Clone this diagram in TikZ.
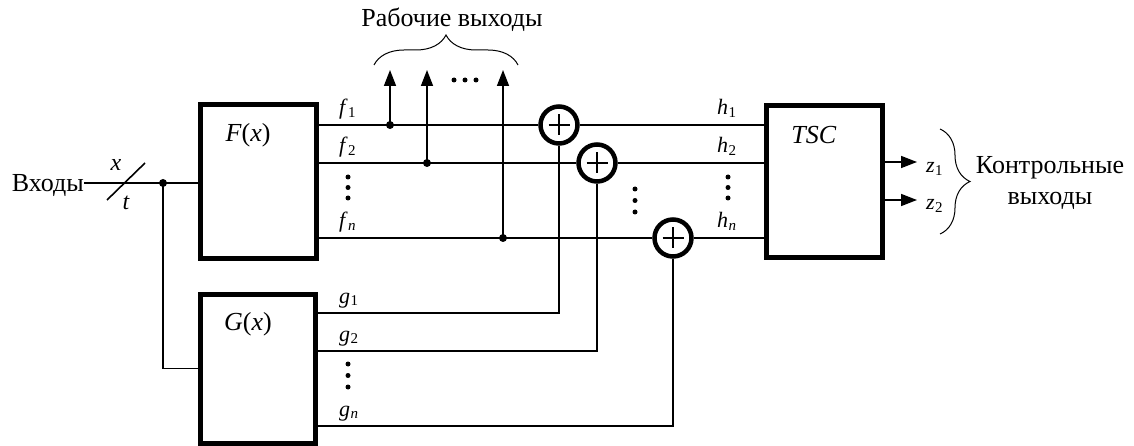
\documentclass[tikz,border=0pt]{standalone}
\usepackage{fontspec}
\setmainfont{Liberation Serif}
\usetikzlibrary{arrows.meta,decorations.pathreplacing}
\newcommand\sbx[1]{\kern0.3pt\raisebox{-0.12em}{\fontsize{15}{15}\selectfont #1}}
\begin{document}
\begin{tikzpicture}[x=1pt,y=-1pt,
  wire/.style={line width=1.6pt},
  blk/.style={draw, line width=5pt, rectangle, inner sep=0pt},
  xorn/.style={draw, circle, line width=4.5pt, minimum size=37pt, inner sep=0pt},
  jdot/.style={circle, fill, inner sep=0pt, minimum size=8pt},
  edot/.style={circle, fill, inner sep=0pt, minimum size=5pt},
  lbl/.style={font=\fontsize{22}{26}\selectfont, inner sep=0pt, anchor=base west},
  big/.style={font=\fontsize{26}{31}\selectfont, inner sep=0pt},
  arr/.style={-{Triangle[length=16pt,width=12pt]}, line width=1.6pt},
  brc/.style={decorate, decoration={brace, amplitude=30pt}, line width=1pt},
]
\useasboundingbox (0,0) rectangle (1134,446);

% blocks
\node[blk, minimum width=116pt, minimum height=153pt] (F) at (258,181.5) {};
\node[blk, minimum width=115pt, minimum height=149pt] (G) at (257.5,368.5) {};
\node[blk, minimum width=116pt, minimum height=151pt] (T) at (824,181.5) {};
\node[big] (Fl) at (248,135) {\textit{F}(\textit{x})};
\node[big] (Gl) at (248,324) {\textit{G}(\textit{x})};
\node[big] (Tl) at (814,135) {\textit{TSC}};

% xor gates
\node[xorn] (X1) at (559,125) {};
\node[xorn] (X2) at (597,163) {};
\node[xorn] (X3) at (673,238) {};
\foreach \n in {X1,X2,X3}
  \draw[wire] (\n.center) ++(-10.5,0) -- ++(21,0) (\n.center) ++(0,-10.5) -- ++(0,21);

% f -> xor -> h wires
\draw[wire] (F.east |- X1) -- (X1.west) (X1.east) -- (T.west |- X1);
\draw[wire] (F.east |- X2) -- (X2.west) (X2.east) -- (T.west |- X2);
\draw[wire] (F.east |- X3) -- (X3.west) (X3.east) -- (T.west |- X3);

% g wires
\coordinate (g1) at (559,313);
\coordinate (g2) at (597,351);
\coordinate (g3) at (673,426);
\draw[wire] (G.east |- g1) -| (X1.south);
\draw[wire] (G.east |- g2) -| (X2.south);
\draw[wire] (G.east |- g3) -| (X3.south);

% taps to working outputs
\node[jdot] (t1) at (390,125) {};
\node[jdot] (t2) at (427,163) {};
\node[jdot] (t3) at (503,238) {};
\coordinate (a1) at (390,70);
\coordinate (a2) at (427,70);
\coordinate (a3) at (503,70);
\draw[arr] (t1.center) -- (a1);
\draw[arr] (t2.center) -- (a2);
\draw[arr] (t3.center) -- (a3);
\node[edot] (hd1) at (454,80) {};
\node[edot] (hd2) at (465,80) {};
\node[edot] (hd3) at (476,80) {};
\coordinate (b1) at (374,65);
\coordinate (b2) at (518,65);
\draw[brc] (b1) -- (b2);
\node[big] (work) at (452,20) {Рабочие выходы};

% input
\node[big, anchor=base east] (in) at (84,192) {Входы};
\node[jdot] (j) at (163,183) {};
\draw[wire] (j -| in.east) -- (F.west |- j);
\draw[wire] (j.center) |- (G.west);
\coordinate (s1) at (107,200);
\coordinate (s2) at (145,163);
\draw[wire] (s1) -- (s2);
\node[font=\fontsize{24}{28}\selectfont\itshape, inner sep=0pt] (xl) at (116,165) {x};
\node[font=\fontsize{24}{28}\selectfont\itshape, inner sep=0pt] (tl) at (126,203) {t};

% labels
\node[lbl] (f1) at (339,115) {\textit{f}\sbx{1}};
\node[lbl] (f2) at (339,153) {\textit{f}\sbx{2}};
\node[lbl] (fn) at (339,228) {\textit{f}\sbx{\textit{n}}};
\node[lbl] (h1) at (717,115) {\textit{h}\sbx{1}};
\node[lbl] (h2) at (717,153) {\textit{h}\sbx{2}};
\node[lbl] (hn) at (717,228) {\textit{h}\sbx{\textit{n}}};
\node[lbl] (gl1) at (339,303) {\textit{g}\sbx{1}};
\node[lbl] (gl2) at (339,341) {\textit{g}\sbx{2}};
\node[lbl] (gln) at (339,416) {\textit{g}\sbx{\textit{n}}};
\foreach \x/\y in {348/177,348/187.5,348/198, 728/177,728/187.5,728/198, 635/189,635/200.5,635/212, 348/364,348/375.5,348/387}
  \node[edot] at (\x,\y) {};

% control outputs
\coordinate (z1e) at (917,162);
\coordinate (z2e) at (917,200);
\draw[arr] (T.east |- z1e) -- (z1e);
\draw[arr] (T.east |- z2e) -- (z2e);
\node[lbl] (z1) at (926,173) {\textit{z}\sbx{1}};
\node[lbl] (z2) at (926,210) {\textit{z}\sbx{2}};
\coordinate (c1) at (940,129);
\coordinate (c2) at (940,234);
\draw[brc] (c1) -- (c2);
\node[big, align=center] (ctl) at (1050,183) {Контрольные\\выходы};
\end{tikzpicture}
\end{document}
